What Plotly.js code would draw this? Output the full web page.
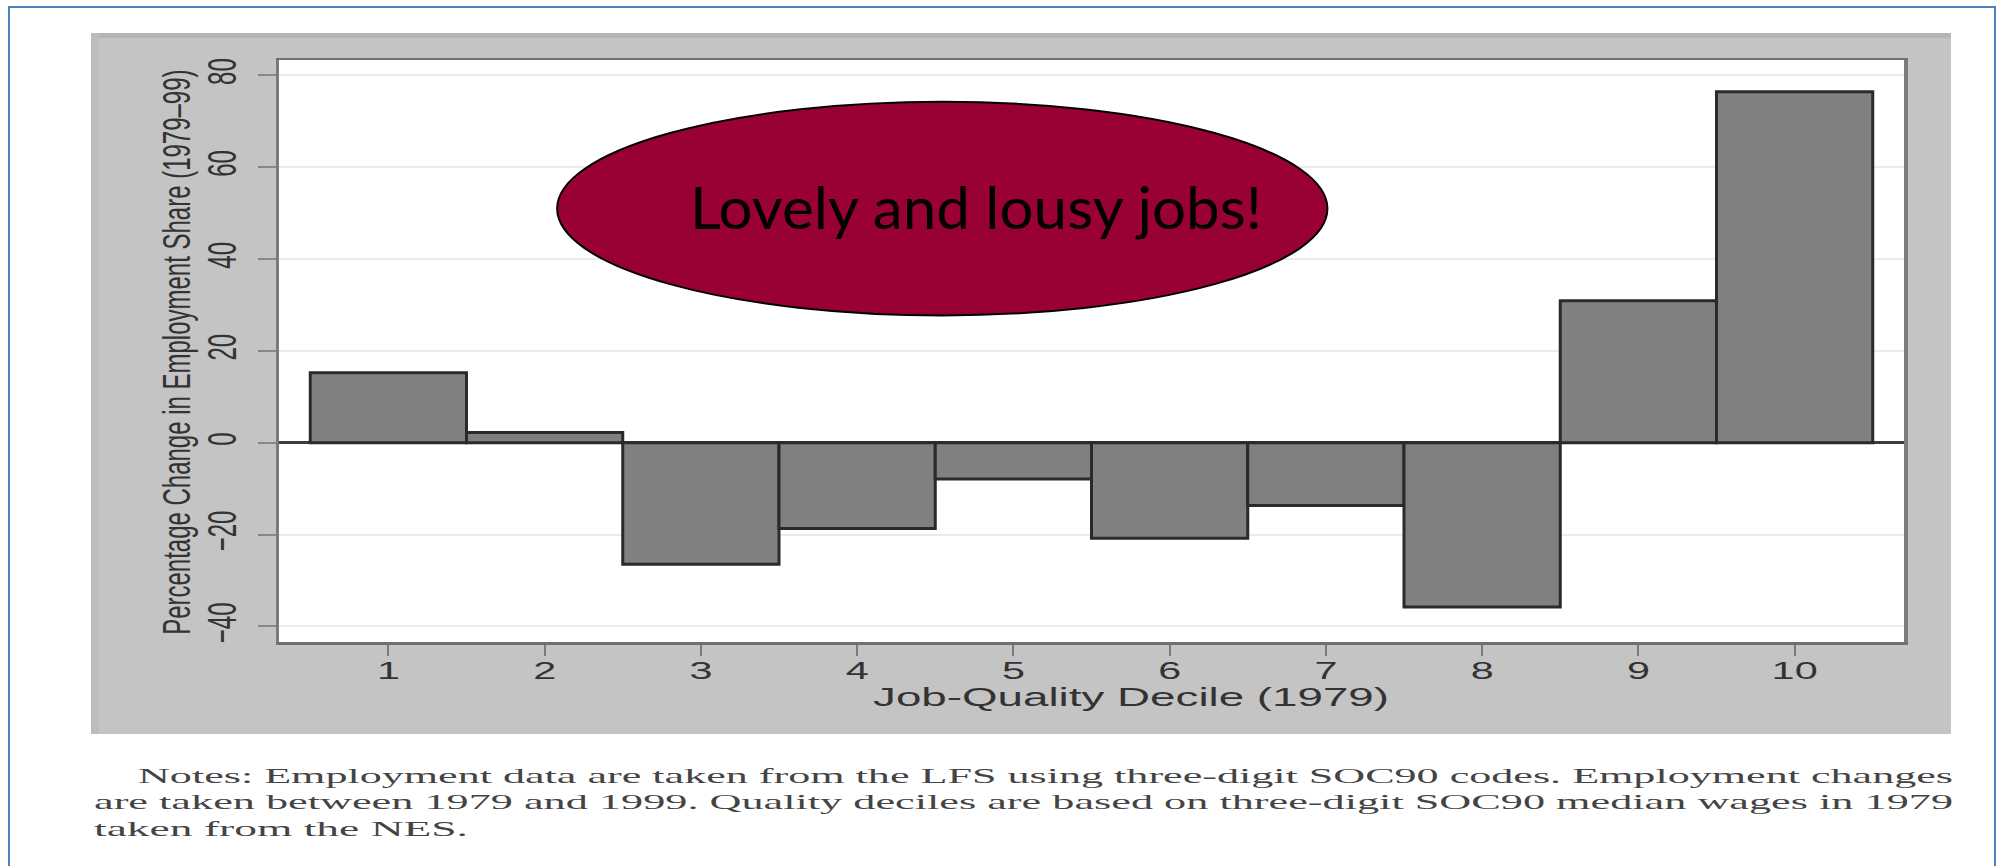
<!DOCTYPE html>
<html>
<head>
<meta charset="utf-8">
<script src="https://cdn.plot.ly/plotly-3.0.1.min.js"></script>
<style>
html,body{margin:0;padding:0;background:#ffffff;overflow:hidden;}
#chart{width:1998px;height:866px;}
</style>
</head>
<body>
<div id="chart"></div>
<script>
// ---------- data ----------
const deciles = [1, 2, 3, 4, 5, 6, 7, 8, 9, 10];
const pctChange = [15.2, 2.2, -26.5, -18.7, -7.9, -20.8, -13.7, -35.8, 30.9, 76.4];
const yTickVals = [-40, -20, 0, 20, 40, 60, 80];
const yTickText = ['\u221240', '\u221220', '0', '20', '40', '60', '80'];
const xTitleText = 'Job-Quality Decile (1979)';
const yTitleText = 'Percentage Change in Employment Share (1979\u201399)';
const calloutText = 'Lovely and lousy jobs!';
const notesLines = [
  'Notes: Employment data are taken from the LFS using three-digit SOC90 codes. Employment changes',
  'are taken between 1979 and 1999. Quality deciles are based on three-digit SOC90 median wages in 1979',
  'taken from the NES.'
];

// ---------- layout geometry (pixels) ----------
const W = 1998, H = 866;
const L = 279, R = 1904, T = 60, B = 642;
const PW = R - L, PH = B - T;
const px = v => (v - L) / PW;
const py = v => (B - v) / PH;

const FONT = 'Liberation Sans, Arial, sans-serif';
const SERIF = 'Liberation Serif, Times New Roman, serif';

const trace = {
  type: 'bar',
  x: deciles,
  y: pctChange,
  width: 1,
  marker: { color: '#808080', line: { color: '#2a2a2a', width: 3 } },
  hoverinfo: 'skip'
};

const layout = {
  width: W, height: H,
  margin: { l: L, r: W - R, t: T, b: H - B, pad: 0 },
  paper_bgcolor: '#ffffff',
  plot_bgcolor: '#ffffff',
  showlegend: false,
  bargap: 0,
  font: { family: FONT, color: '#333333' },
  xaxis: {
    range: [0.3, 10.7],
    tickvals: deciles,
    ticktext: deciles.map(String),
    ticks: 'outside', ticklen: 11, tickwidth: 2, tickcolor: '#7a7a7a',
    showline: true, mirror: true, linecolor: '#707070', linewidth: 2.5,
    showgrid: false, zeroline: false,
    tickfont: { size: 23, color: '#333333', family: FONT },
    ticklabelstandoff: -4
  },
  yaxis: {
    range: [-43.4, 83.3],
    tickvals: yTickVals,
    ticktext: yTickText,
    tickangle: -90,
    ticks: 'outside', ticklen: 18, tickwidth: 2, tickcolor: '#888888',
    showline: true, mirror: true, linecolor: '#7a7a7a', linewidth: 3.5,
    showgrid: true, gridcolor: '#ebebeb', gridwidth: 2,
    zeroline: true, zerolinecolor: '#3c3c3c', zerolinewidth: 3,
    tickfont: { size: 24, color: '#333333', family: FONT },
    ticklabelstandoff: 18
  },
  shapes: [
    // grey graph region
    { type: 'rect', xref: 'paper', yref: 'paper', layer: 'below',
      x0: px(91), x1: px(1951), y0: py(734), y1: py(33),
      fillcolor: '#c4c4c4', line: { width: 0 } },
    { type: 'rect', xref: 'paper', yref: 'paper', layer: 'below',
      x0: px(91), x1: px(1951), y0: py(38), y1: py(33),
      fillcolor: '#b5b5b5', line: { width: 0 } },
    { type: 'rect', xref: 'paper', yref: 'paper', layer: 'below',
      x0: px(91), x1: px(99), y0: py(734), y1: py(33),
      fillcolor: '#bcbcbc', line: { width: 0 } },
    // white plot region
    { type: 'rect', xref: 'paper', yref: 'paper', layer: 'below',
      x0: 0, x1: 1, y0: 0, y1: 1,
      fillcolor: '#ffffff', line: { width: 0 } },
    // blue page frame
    { type: 'rect', xref: 'paper', yref: 'paper', layer: 'above',
      x0: px(9), x1: px(1995), y0: py(900), y1: py(7),
      fillcolor: 'rgba(0,0,0,0)', line: { color: '#4f81bd', width: 2 } },
    // callout ellipse
    { type: 'circle', xref: 'x', yref: 'y', layer: 'above',
      x0: 2.08, x1: 7.01, y0: 27.7, y1: 74.2,
      fillcolor: '#990033', line: { color: '#000000', width: 2 } }
  ],
  annotations: [
    { text: calloutText, xref: 'x', yref: 'y', x: 4.76, y: 51.3,
      xanchor: 'center', yanchor: 'middle', showarrow: false,
      font: { family: 'Lato, Noto Sans, sans-serif', size: 58, color: '#000000' } },
    { text: xTitleText, xref: 'paper', yref: 'paper', x: px(1131), y: py(697),
      xanchor: 'center', yanchor: 'middle', showarrow: false,
      font: { family: FONT, size: 25, color: '#333333' } },
    { text: yTitleText, xref: 'paper', yref: 'paper', x: px(176), y: py(352),
      xanchor: 'center', yanchor: 'middle', showarrow: false, textangle: -90,
      font: { family: FONT, size: 24, color: '#333333' } },
    { text: notesLines[0], xref: 'paper', yref: 'paper', x: px(136), y: py(775),
      xanchor: 'left', yanchor: 'middle', align: 'left', showarrow: false,
      font: { family: SERIF, size: 22, color: '#444444' } },
    { text: notesLines[1], xref: 'paper', yref: 'paper', x: px(92), y: py(801),
      xanchor: 'left', yanchor: 'middle', align: 'left', showarrow: false,
      font: { family: SERIF, size: 22, color: '#444444' } },
    { text: notesLines[2], xref: 'paper', yref: 'paper', x: px(92), y: py(828),
      xanchor: 'left', yanchor: 'middle', align: 'left', showarrow: false,
      font: { family: SERIF, size: 22, color: '#444444' } }
  ]
};

// the reference picture is stretched horizontally; mimic that on its texts
function widen(t, target) {
  t.setAttribute('textLength', target.toFixed(1));
  t.setAttribute('lengthAdjust', 'spacingAndGlyphs');
}
function thicken(t, k) {
  const bb = t.getBBox();
  const cx = bb.x + bb.width / 2, cy = bb.y + bb.height / 2;
  const prev = t.getAttribute('transform') || '';
  t.setAttribute('transform', prev + ' translate(' + cx + ',' + cy + ') scale(1,' + k + ') translate(' + (-cx) + ',' + (-cy) + ')');
}

const gd = document.getElementById('chart');
Plotly.newPlot(gd, [trace], layout, { staticPlot: true, displayModeBar: false }).then(() => {
  const targets = { 0: 572, 1: 516, 3: 1815, 4: 1859, 5: 374 };
  Object.keys(targets).forEach(i => {
    const t = gd.querySelector('.annotation[data-index="' + i + '"] text.annotation-text');
    if (t) widen(t, targets[i]);
  });
  gd.querySelectorAll('.xtick text').forEach(t => widen(t, t.getComputedTextLength() * 1.8));
  gd.querySelectorAll('.ytick text').forEach(t => thicken(t, 1.7));
  const yt = gd.querySelector('.annotation[data-index="2"] text.annotation-text');
  if (yt) thicken(yt, 1.6);
});
</script>
</body>
</html>
